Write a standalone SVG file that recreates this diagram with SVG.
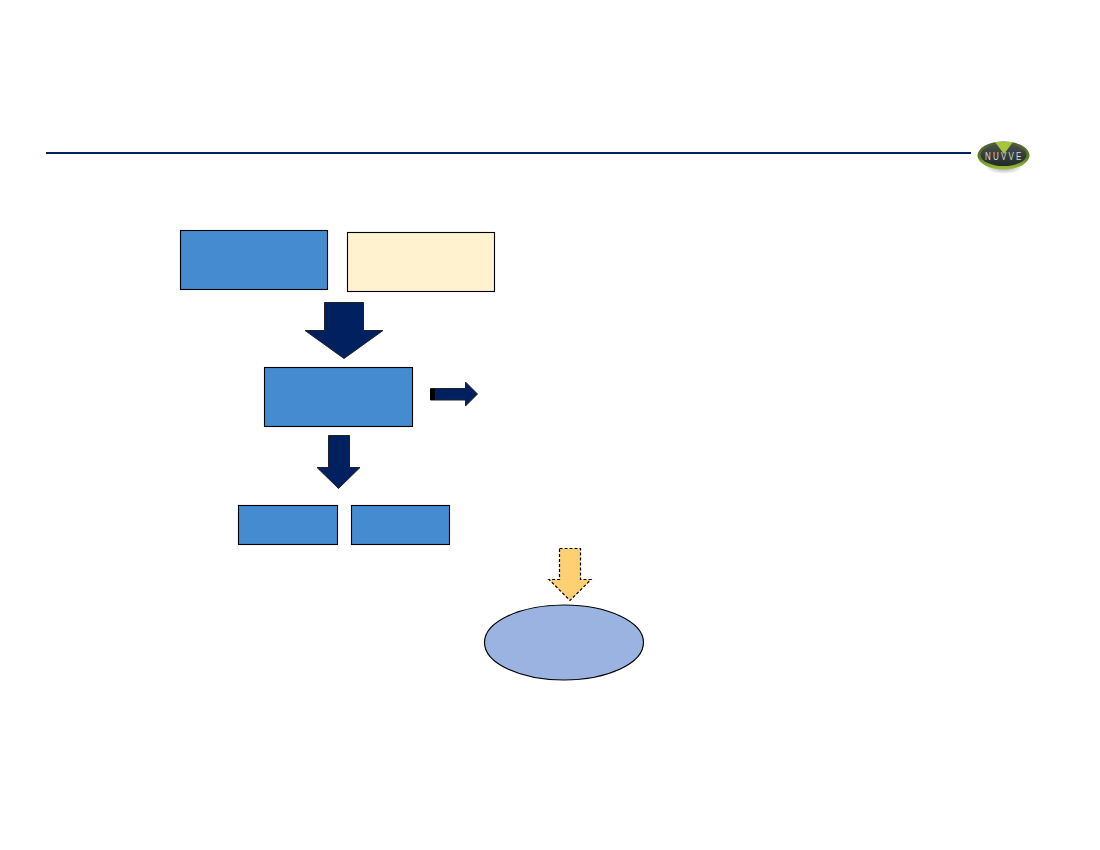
<svg xmlns="http://www.w3.org/2000/svg" width="1100" height="850" viewBox="0 0 1100 850">
<defs>
<linearGradient id="rim" x1="0" y1="0" x2="0" y2="1"><stop offset="0" stop-color="#4a5a30"/><stop offset=".55" stop-color="#5d7f22"/><stop offset="1" stop-color="#9cc03a"/></linearGradient>
<linearGradient id="body" x1="0" y1="0" x2="0" y2="1"><stop offset="0" stop-color="#4a524e"/><stop offset="1" stop-color="#222a28"/></linearGradient>
<radialGradient id="shadow"><stop offset="0" stop-color="#9a9a9a"/><stop offset="1" stop-color="#fff"/></radialGradient>
</defs>
<style>
.box{fill:#448bd0;stroke:#000;stroke-width:1.1}
.arrow{fill:#002060;stroke:#222;stroke-width:1}
</style>
<rect width="1100" height="850" fill="#fff"/>
<g id="header-rule"><rect x="46" y="152" width="925" height="2" fill="#002060"/></g>
<g id="logo">
<ellipse cx="1004" cy="167" rx="19" ry="7" fill="url(#shadow)"/>
<ellipse cx="1003.500" cy="155.500" rx="26" ry="14" fill="url(#rim)"/>
<ellipse cx="1003.500" cy="155" rx="23" ry="11" fill="url(#body)"/>
<path d="M995 142L1013 142L1004 154Z" fill="#a5c63b"/>
<text transform="translate(985 160) scale(1 1.300)" x="0" y="0" font-family="'Liberation Sans',sans-serif" font-size="8" fill="#d8dcd8" letter-spacing="2.200">NUVVE</text>
</g>
<g id="box-top-left"><rect class="box" x="180.500" y="230.500" width="147" height="59"/></g>
<g id="box-top-right"><rect x="347.500" y="232.500" width="147" height="59" fill="#fff2cf" stroke="#000" stroke-width="1.100"/></g>
<g id="box-middle"><rect class="box" x="264.500" y="367.500" width="148" height="59"/></g>
<g id="box-bottom-left"><rect class="box" x="238.500" y="505.500" width="99" height="39"/></g>
<g id="box-bottom-right"><rect class="box" x="351.500" y="505.500" width="98" height="39"/></g>
<g id="ellipse-bottom"><ellipse cx="564" cy="642.500" rx="79.500" ry="37.500" fill="#9bb3e0" stroke="#000" stroke-width="1.200"/></g>
<g id="connectors">
<path class="arrow" d="M324.500 302.500H363.500V330.500H383L344 358.500L305 330.500H324.500Z"/>
<path class="arrow" d="M328.500 435.500H349.500V467.500H360L338.500 488.500L317 467.500H328.500Z"/>
<path class="arrow" d="M430.500 388.500H465.500V382L477.500 394L465.500 406V400H430.500Z"/>
<rect x="430" y="389" width="5" height="11" fill="#000"/>
<path d="M559.500 548.500H580.500V579.500H591L570 600.500L549 579.500H559.500Z" fill="#ffd071" stroke="#000" stroke-width="1.200" stroke-dasharray="3 2"/>
</g>
</svg>
